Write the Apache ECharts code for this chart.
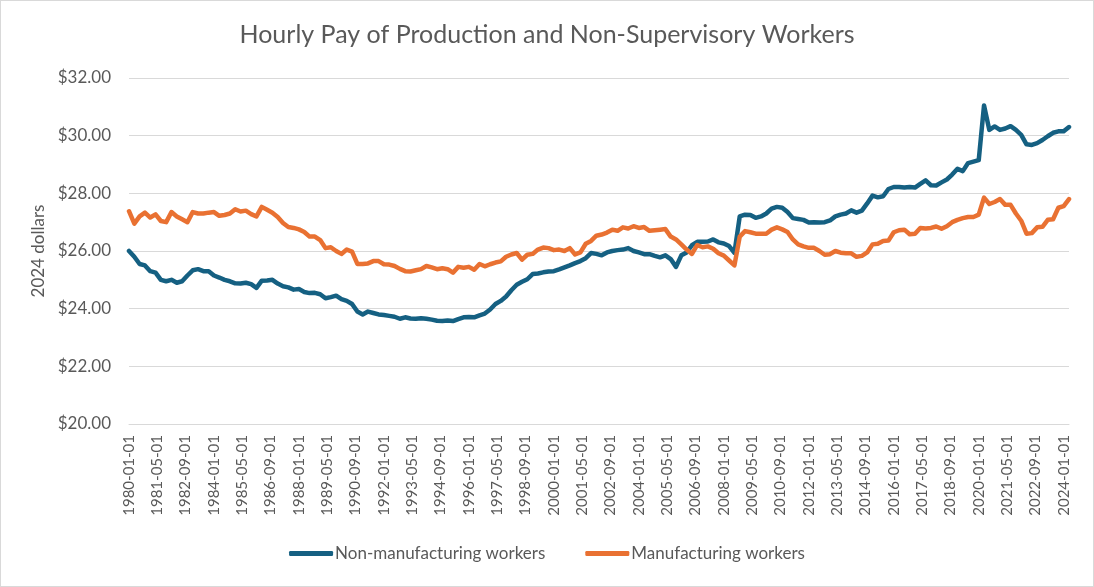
<!DOCTYPE html>
<html>
<head>
<meta charset="utf-8">
<title>Hourly Pay of Production and Non-Supervisory Workers</title>
<script src="https://cdn.jsdelivr.net/npm/echarts/dist/echarts.min.js"></script>
<style>
  html, body { margin: 0; padding: 0; background: #fff; }
  #chart { width: 1094px; height: 587px; box-sizing: border-box; border: 1px solid #d9d9d9; }
</style>
</head>
<body>
<div id="chart"></div>
<script>
const START_YEAR = 1980;
const MONTHS = 532;
const STEP = 3;

const months = [];
for (let m = 0; m < MONTHS; m++) {
  const y = START_YEAR + Math.floor(m / 12);
  const mm = String(m % 12 + 1).padStart(2, '0');
  months.push(y + '-' + mm + '-01');
}

// Non-manufacturing workers, 2024 dollars
const nonMfg = [
  26.0, 25.8, 25.55, 25.5, 25.3, 25.25, 25.0, 24.95, 25.0, 24.9,
  24.95, 25.15, 25.33, 25.37, 25.3, 25.3, 25.15, 25.08, 25.0, 24.95,
  24.88, 24.87, 24.9, 24.85, 24.72, 24.97, 24.98, 25.0, 24.87, 24.78,
  24.74, 24.66, 24.68, 24.58, 24.54, 24.55, 24.5, 24.36, 24.4, 24.45,
  24.33, 24.27, 24.16, 23.9, 23.8, 23.9, 23.85, 23.8, 23.78, 23.75,
  23.72, 23.65, 23.7, 23.66, 23.65, 23.67, 23.65, 23.62, 23.58, 23.57,
  23.59, 23.57, 23.64, 23.7, 23.71, 23.7, 23.77, 23.83, 23.97, 24.16,
  24.27, 24.42, 24.64, 24.83, 24.93, 25.02, 25.2, 25.22, 25.26, 25.29,
  25.3, 25.36, 25.43, 25.5, 25.58, 25.65, 25.75, 25.93, 25.9, 25.85,
  25.95, 26.0, 26.03, 26.05, 26.1, 26.0, 25.95, 25.89, 25.89, 25.83,
  25.78, 25.85, 25.72, 25.45, 25.85, 25.95, 26.2, 26.32, 26.32, 26.33,
  26.4, 26.3, 26.26, 26.17, 25.94, 27.2, 27.26, 27.25, 27.15, 27.2,
  27.3, 27.47, 27.53, 27.5, 27.35, 27.14, 27.11, 27.08, 26.99, 27.0,
  26.99, 27.0, 27.06, 27.2, 27.26, 27.3, 27.41, 27.33, 27.4, 27.65,
  27.92, 27.86, 27.9, 28.15, 28.22, 28.22, 28.2, 28.22, 28.2, 28.33,
  28.45, 28.28, 28.27, 28.38, 28.48, 28.65, 28.85, 28.77, 29.05, 29.1,
  29.15, 31.05, 30.2, 30.32, 30.2, 30.25, 30.33, 30.2, 30.03, 29.7,
  29.68, 29.74, 29.85, 29.98, 30.1, 30.15, 30.15, 30.3
];

// Manufacturing workers, 2024 dollars
const mfg = [
  27.38, 26.95, 27.2, 27.33, 27.16, 27.27, 27.04, 27.0, 27.35, 27.2,
  27.1, 27.0, 27.35, 27.3, 27.3, 27.33, 27.35, 27.22, 27.25, 27.3,
  27.45, 27.37, 27.4, 27.28, 27.2, 27.53, 27.43, 27.33, 27.18, 26.97,
  26.83, 26.8, 26.75, 26.66, 26.5, 26.5, 26.38, 26.1, 26.13, 26.0,
  25.9, 26.05, 25.98, 25.55, 25.55, 25.57, 25.65, 25.65, 25.54, 25.53,
  25.48, 25.38, 25.3, 25.29, 25.33, 25.37, 25.48, 25.43, 25.37, 25.4,
  25.37, 25.25, 25.45, 25.42, 25.45, 25.35, 25.55, 25.47, 25.54, 25.6,
  25.64, 25.8, 25.88, 25.93, 25.7, 25.87, 25.9, 26.05, 26.12, 26.1,
  26.03, 26.05, 26.0, 26.1, 25.88, 25.95, 26.25, 26.35, 26.53, 26.57,
  26.64, 26.74, 26.7, 26.82, 26.78, 26.86, 26.8, 26.83, 26.7, 26.72,
  26.74, 26.76, 26.5, 26.4, 26.23, 26.05, 25.9, 26.21, 26.13, 26.16,
  26.08, 25.92, 25.84, 25.67, 25.5, 26.5, 26.69, 26.65, 26.6, 26.6,
  26.6, 26.74, 26.82, 26.75, 26.66, 26.4, 26.23, 26.16, 26.11, 26.11,
  26.0, 25.87, 25.89, 26.0, 25.94, 25.92, 25.92, 25.8, 25.83, 25.95,
  26.23, 26.25, 26.35, 26.36, 26.65, 26.72, 26.74, 26.58, 26.6, 26.8,
  26.78, 26.8, 26.85, 26.77, 26.86, 27.0, 27.08, 27.14, 27.18, 27.18,
  27.26, 27.85, 27.63, 27.7, 27.8, 27.6, 27.6, 27.3, 27.05, 26.6,
  26.62, 26.82, 26.84, 27.08, 27.1, 27.5, 27.56, 27.8
];

const yTicks = [20, 22, 24, 26, 28, 30, 32];

const FONT = 'Lato, "Open Sans", sans-serif';
const GREY = '#595959';

const toPoints = arr => arr.map((v, k) => [k * STEP, v]);

const option = {
  animation: false,
  textStyle: { fontFamily: FONT },
  title: {
    text: 'Hourly Pay of Production and Non-Supervisory Workers',
    left: 'center',
    top: 16,
    textStyle: { fontFamily: FONT, fontSize: 25, fontWeight: 'normal', color: GREY }
  },
  grid: { left: 128, right: 24, top: 77, bottom: 162 },
  legend: {
    bottom: 19,
    left: 'center',
    icon: 'roundRect',
    itemWidth: 44,
    itemHeight: 5,
    itemGap: 40,
    textStyle: { fontFamily: FONT, fontSize: 17, color: GREY, padding: [0, 0, 0, -3] },
    data: ['Non-manufacturing workers', 'Manufacturing workers']
  },
  xAxis: {
    type: 'category',
    data: months,
    boundaryGap: false,
    axisLine: { lineStyle: { color: '#d9d9d9', width: 1 } },
    axisTick: { show: false },
    axisLabel: {
      interval: 15,
      rotate: 90,
      margin: 11,
      fontFamily: FONT,
      fontSize: 15,
      color: GREY
    }
  },
  yAxis: {
    type: 'value',
    min: yTicks[0],
    max: yTicks[yTicks.length - 1],
    interval: 2,
    name: '2024 dollars',
    nameLocation: 'middle',
    nameGap: 82,
    nameTextStyle: { fontFamily: FONT, fontSize: 17, color: GREY },
    axisLine: { show: false },
    axisTick: { show: false },
    axisLabel: {
      margin: 18,
      fontFamily: FONT,
      fontSize: 17,
      color: GREY,
      formatter: v => '$' + v.toFixed(2)
    },
    splitLine: { lineStyle: { color: '#d9d9d9', width: 1 } }
  },
  series: [
    {
      name: 'Non-manufacturing workers',
      type: 'line',
      data: toPoints(nonMfg),
      showSymbol: false,
      color: '#156082',
      lineStyle: { width: 4.5, cap: 'round', join: 'round' }
    },
    {
      name: 'Manufacturing workers',
      type: 'line',
      data: toPoints(mfg),
      showSymbol: false,
      color: '#E97132',
      lineStyle: { width: 4.5, cap: 'round', join: 'round' }
    }
  ]
};

const chart = echarts.init(document.getElementById('chart'));
chart.setOption(option);
</script>
</body>
</html>
